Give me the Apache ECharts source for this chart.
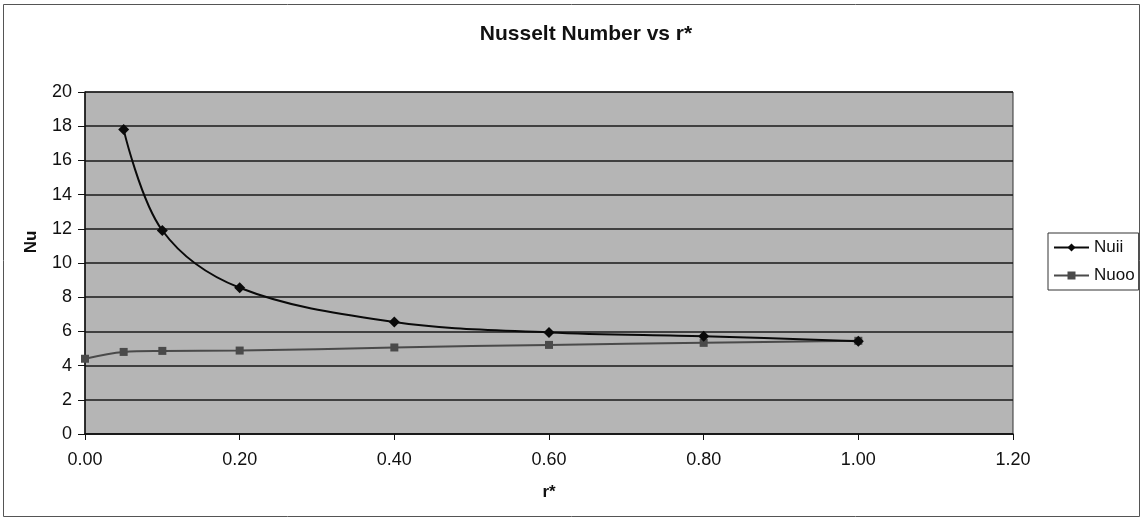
<!DOCTYPE html>
<html>
<head>
<meta charset="utf-8">
<script src="https://cdn.jsdelivr.net/npm/echarts@6/dist/echarts.min.js"></script>
<style>
  html, body { margin: 0; padding: 0; background: #fff; }
  #chart { width: 1142px; height: 519px; }
</style>
</head>
<body>
<div id="chart"></div>
<script>
// r* positions of the measured points
const rStar = [0.00, 0.05, 0.10, 0.20, 0.40, 0.60, 0.80, 1.00];
// Nusselt numbers, inner wall (no value at r* = 0)
const nuii = [null, 17.8, 11.9, 8.55, 6.55, 5.94, 5.72, 5.43];
// Nusselt numbers, outer wall
const nuoo = [4.40, 4.80, 4.86, 4.88, 5.06, 5.21, 5.33, 5.45];
// axis ticks
const xTicks = { min: 0, max: 1.2, step: 0.2 };
const yTicks = { min: 0, max: 20, step: 2 };

const pairs = (ys) => rStar.map((x, i) => [x, ys[i]]).filter(p => p[1] !== null);

const chart = echarts.init(document.getElementById('chart'), null, { renderer: 'canvas' });
const font = 'Liberation Sans, Arial, sans-serif';

chart.setOption({
  backgroundColor: '#ffffff',
  animation: false,
  title: {
    text: 'Nusselt Number vs r*',
    left: 581,
    top: 19,
    textAlign: 'center',
    textStyle: { fontFamily: font, fontSize: 21, fontWeight: 'bold', color: '#111' }
  },
  graphic: [{
    type: 'rect',
    shape: { x: 3.5, y: 4.5, width: 1136, height: 512 },
    style: { fill: 'none', stroke: '#555', lineWidth: 1 },
    silent: true,
    z: -1
  }],
  legend: {
    orient: 'vertical',
    left: 1048,
    top: 233,
    width: 92,
    padding: [6, 4, 6, 5],
    itemGap: 11,
    itemWidth: 35,
    itemHeight: 10,
    borderColor: '#333',
    borderWidth: 1,
    backgroundColor: '#fff',
    textStyle: { fontFamily: font, fontSize: 17, color: '#111' },
    data: ['Nuii', 'Nuoo']
  },
  grid: {
    left: 85, right: 129, top: 92, bottom: 85,
    show: true,
    backgroundColor: '#b5b5b5',
    borderColor: '#333',
    borderWidth: 1
  },
  xAxis: {
    type: 'value',
    min: xTicks.min, max: xTicks.max, interval: xTicks.step,
    name: 'r*',
    nameLocation: 'middle',
    nameGap: 50,
    nameTextStyle: { fontFamily: font, fontSize: 17, fontWeight: 'bold', color: '#111' },
    axisLine: { show: true, onZero: false, lineStyle: { color: '#111', width: 1.5 } },
    axisTick: { show: true, inside: false, length: 6, lineStyle: { color: '#111' } },
    axisLabel: {
      margin: 17, fontFamily: font, fontSize: 18, color: '#111',
      formatter: v => v.toFixed(2)
    },
    splitLine: { show: false }
  },
  yAxis: {
    type: 'value',
    min: yTicks.min, max: yTicks.max, interval: yTicks.step,
    name: 'Nu',
    nameLocation: 'middle',
    nameGap: 45,
    nameTextStyle: {
      fontFamily: font, fontSize: 17, fontWeight: 'bold', color: '#111',
      padding: [0, 0, 0, 42]
    },
    axisLine: { show: true, lineStyle: { color: '#111', width: 1.5 } },
    axisTick: { show: true, inside: false, length: 7, lineStyle: { color: '#111' } },
    axisLabel: { margin: 13, fontFamily: font, fontSize: 18, color: '#111' },
    splitLine: { show: true, lineStyle: { color: '#1a1a1a', width: 1.5 } }
  },
  series: [
    {
      name: 'Nuii',
      type: 'line',
      data: pairs(nuii),
      smooth: 0.35,
      symbol: 'diamond',
      symbolSize: 11,
      itemStyle: { color: '#0a0a0a' },
      lineStyle: { color: '#0a0a0a', width: 2 },
      z: 3
    },
    {
      name: 'Nuoo',
      type: 'line',
      data: pairs(nuoo),
      smooth: 0.35,
      symbol: 'rect',
      symbolSize: 8,
      itemStyle: { color: '#4a4a4a' },
      lineStyle: { color: '#4a4a4a', width: 2 },
      z: 2
    }
  ]
});
</script>
</body>
</html>
